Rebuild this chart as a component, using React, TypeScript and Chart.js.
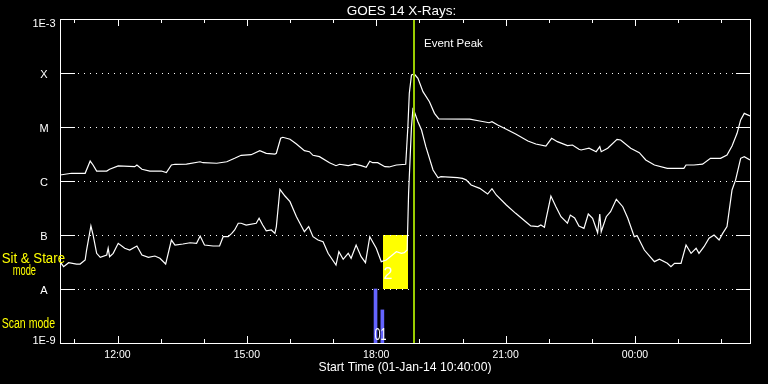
import React, { useEffect, useRef } from 'react';
import { Chart, registerables } from 'chart.js';

Chart.register(...registerables);

const TITLE = 'GOES 14 X-Rays:';
const X_TITLE = 'Start Time (01-Jan-14 10:40:00)';
const EVENT_LABEL = 'Event Peak';

// time axis: minutes since 01-Jan-14 10:40:00
const timeMin = 0;
const timeMax = 960;
const hourTicks = [20, 80, 140, 200, 260, 320, 380, 440, 500, 560, 620, 680, 740, 800, 860, 920];
const majorTicks = [80, 260, 440, 620, 800];
const majorLabels = ['12:00', '15:00', '18:00', '21:00', '00:00'];

// flux axis (W/m^2)
const decadeValues = [1e-9, 1e-8, 1e-7, 1e-6, 1e-5, 1e-4, 1e-3];
const decadeLabels = ['1E-9', 'A', 'B', 'C', 'M', 'X', '1E-3'];

// 1-8 Angstrom (upper curve)
const upperTimes = [0, 16, 35, 42, 46, 51, 65, 69, 81, 104, 107, 114, 125, 141, 148, 155, 160, 176, 195, 199, 218, 232, 243, 246, 252, 266, 278, 287, 299, 301, 307, 310, 320, 329, 340, 347, 352, 361, 375, 384, 389, 401, 410, 419, 426, 431, 435, 442, 452, 458, 468, 481, 484, 486, 489, 493, 498, 505, 514, 521, 527, 570, 584, 597, 601, 609, 621, 634, 651, 662, 676, 684, 692, 706, 713, 722, 725, 736, 746, 751, 753, 762, 775, 780, 794, 806, 815, 827, 845, 868, 871, 882, 894, 905, 919, 928, 935, 942, 947, 952, 960];
const upperFlux = [1.29e-6, 1.39e-6, 1.39e-6, 2.34e-6, 1.98e-6, 1.53e-6, 1.53e-6, 1.65e-6, 1.9e-6, 1.84e-6, 1.98e-6, 1.65e-6, 1.53e-6, 1.53e-6, 1.43e-6, 1.98e-6, 2.04e-6, 2.05e-6, 2.27e-6, 2.18e-6, 2.13e-6, 2.27e-6, 2.63e-6, 2.75e-6, 2.99e-6, 3.07e-6, 3.64e-6, 3.26e-6, 3.16e-6, 3.26e-6, 6.18e-6, 6.45e-6, 5.92e-6, 4.84e-6, 3.64e-6, 3.49e-6, 2.99e-6, 2.82e-6, 2.18e-6, 1.92e-6, 2.04e-6, 1.92e-6, 2.05e-6, 1.92e-6, 1.79e-6, 2.32e-6, 2.18e-6, 2.18e-6, 1.84e-6, 1.82e-6, 1.98e-6, 2.04e-6, 1.01e-5, 4.21e-5, 9.18e-5, 9.58e-5, 7.98e-5, 4.51e-5, 2.94e-5, 1.79e-5, 1.41e-5, 1.4e-5, 1.29e-5, 1.2e-5, 1.25e-5, 1.09e-5, 9.06e-6, 7.41e-6, 5.51e-6, 4.84e-6, 4.45e-6, 6.18e-6, 5.35e-6, 4.51e-6, 4.64e-6, 3.86e-6, 3.75e-6, 4.04e-6, 3.49e-6, 4.32e-6, 3.49e-6, 4.04e-6, 5.92e-6, 5.74e-6, 4.04e-6, 3.34e-6, 2.45e-6, 1.98e-6, 1.72e-6, 1.72e-6, 1.98e-6, 1.98e-6, 2.05e-6, 2.63e-6, 2.63e-6, 3.03e-6, 4.45e-6, 7.64e-6, 1.35e-5, 1.79e-5, 1.6e-5];

// 0.5-4 Angstrom (lower curve)
const lowerTimes = [0, 5, 12, 23, 28, 35, 37, 43, 46, 51, 56, 65, 67, 69, 74, 81, 90, 97, 107, 114, 123, 132, 139, 147, 155, 160, 171, 181, 190, 195, 201, 213, 222, 227, 234, 239, 243, 248, 252, 259, 273, 277, 282, 287, 294, 299, 301, 306, 313, 320, 329, 340, 346, 352, 359, 366, 373, 384, 388, 394, 401, 405, 412, 419, 425, 431, 440, 447, 454, 468, 475, 479, 483, 485, 489, 491, 493, 498, 503, 509, 519, 526, 530, 553, 560, 565, 572, 584, 595, 601, 607, 621, 634, 648, 655, 665, 669, 674, 676, 683, 690, 697, 706, 710, 716, 722, 729, 735, 741, 748, 751, 753, 760, 766, 774, 783, 790, 799, 803, 813, 827, 834, 845, 850, 855, 864, 871, 878, 885, 889, 896, 903, 910, 917, 922, 928, 935, 940, 947, 952, 960];
const lowerFlux = [3.21e-8, 2.59e-8, 3.07e-8, 2.9e-8, 2.9e-8, 3.44e-8, 5.27e-8, 1.47e-7, 1.0e-7, 4.58e-8, 3.86e-8, 4.27e-8, 5.68e-8, 3.96e-8, 4.58e-8, 7.02e-8, 5.68e-8, 5.27e-8, 6.25e-8, 4.27e-8, 3.86e-8, 4.08e-8, 3.71e-8, 2.9e-8, 8.07e-8, 6.53e-8, 6.81e-8, 7.19e-8, 7.02e-8, 9.58e-8, 6.53e-8, 6.25e-8, 6.25e-8, 9.31e-8, 9.31e-8, 1.07e-7, 1.24e-7, 1.65e-7, 1.65e-7, 1.53e-7, 1.65e-7, 2.04e-7, 1.53e-7, 1.2e-7, 1.24e-7, 1.07e-7, 1.43e-7, 7.02e-7, 5.27e-7, 4.14e-7, 2.18e-7, 1.15e-7, 1.43e-7, 9.31e-8, 8.07e-8, 7.52e-8, 4.58e-8, 2.78e-8, 4.91e-8, 3.55e-8, 4.58e-8, 3.71e-8, 6.53e-8, 3.96e-8, 3.07e-8, 9.31e-8, 5.68e-8, 3.21e-8, 3.44e-8, 4.91e-8, 4.58e-8, 4.7e-8, 5.27e-8, 5.92e-7, 1.01e-5, 2.13e-5, 1.92e-5, 1.25e-5, 8.8e-6, 4.32e-6, 1.6e-6, 1.15e-6, 1.2e-6, 1.15e-6, 1.12e-6, 1.05e-6, 8.43e-7, 7.32e-7, 5.74e-7, 7.19e-7, 5.51e-7, 3.6e-7, 2.52e-7, 1.76e-7, 1.47e-7, 1.43e-7, 1.53e-7, 1.39e-7, 1.9e-7, 5.27e-7, 3.34e-7, 2.18e-7, 1.65e-7, 2.34e-7, 2.07e-7, 1.47e-7, 1.33e-7, 2.45e-7, 2.04e-7, 1.1e-7, 2.45e-7, 1.15e-7, 2.18e-7, 2.7e-7, 4.58e-7, 3.34e-7, 2.04e-7, 9.31e-8, 9.71e-8, 5.27e-8, 3.21e-8, 3.55e-8, 2.99e-8, 2.59e-8, 2.99e-8, 2.99e-8, 6.53e-8, 4.58e-8, 5.68e-8, 4.58e-8, 6.07e-8, 8.69e-8, 1.0e-7, 8.07e-8, 1.07e-7, 1.43e-7, 6.81e-7, 1.05e-6, 2.63e-6, 2.82e-6, 2.45e-6];

// event markers
const eventPeakTime = 492;
const sitStareTimes = [450, 485];
const sitStareFlux = [1e-8, 1e-7];
const sitStareLabel = '2';
const scanTimes = [439, 448.5];
const scanTops = [1e-8, 4.1e-9];
const scanLabel = '01';

const FONT = '"Liberation Sans", Arial, sans-serif';

function drawText(
  ctx: CanvasRenderingContext2D,
  s: string,
  x: number,
  y: number,
  size: number,
  color: string,
  align: CanvasTextAlign = 'left',
  fitWidth?: number
) {
  ctx.save();
  ctx.font = `${size}px ${FONT}`;
  ctx.fillStyle = color;
  ctx.textBaseline = 'alphabetic';
  ctx.textAlign = align;
  ctx.translate(x, y);
  if (fitWidth) {
    const w = ctx.measureText(s).width;
    if (w > 0) ctx.scale(fitWidth / w, 1);
  }
  ctx.fillText(s, 0, 0);
  ctx.restore();
}

const overlayPlugin = {
  id: 'goesOverlay',
  beforeDraw(chart: any) {
    const ctx = chart.ctx;
    ctx.save();
    ctx.fillStyle = '#000';
    ctx.fillRect(0, 0, chart.width, chart.height);
    ctx.restore();
  },
  beforeDatasetsDraw(chart: any) {
    const { ctx, chartArea, scales } = chart;
    const { left, right, top, bottom } = chartArea;
    const xs = scales.x;
    const ys = scales.y;
    ctx.save();
    // sit & stare box
    const bx0 = xs.getPixelForValue(sitStareTimes[0]);
    const bx1 = xs.getPixelForValue(sitStareTimes[1]);
    const by0 = ys.getPixelForValue(sitStareFlux[1]);
    const by1 = ys.getPixelForValue(sitStareFlux[0]);
    ctx.fillStyle = '#ffff00';
    ctx.fillRect(Math.round(bx0), Math.round(by0), Math.round(bx1 - bx0), Math.round(by1 - by0));

    // decade grid lines
    ctx.strokeStyle = '#fff';
    ctx.lineWidth = 1;
    for (let i = 1; i < decadeValues.length - 1; i++) {
      const py = Math.round(ys.getPixelForValue(decadeValues[i])) + 0.5;
      ctx.setLineDash([]);
      ctx.beginPath();
      ctx.moveTo(left, py);
      ctx.lineTo(left + 15, py);
      ctx.moveTo(right - 14, py);
      ctx.lineTo(right + 1, py);
      ctx.stroke();
      ctx.setLineDash([1, 5]);
      ctx.beginPath();
      ctx.moveTo(left + 18, py);
      ctx.lineTo(right - 15, py);
      ctx.stroke();
    }
    ctx.setLineDash([]);
    // hour ticks top and bottom
    ctx.beginPath();
    for (const t of hourTicks) {
      const px = Math.round(xs.getPixelForValue(t)) + 0.5;
      const len = majorTicks.includes(t) ? 7 : 4;
      ctx.moveTo(px, bottom);
      ctx.lineTo(px, bottom - len);
      ctx.moveTo(px, top);
      ctx.lineTo(px, top + len);
    }
    ctx.stroke();
    ctx.restore();
  },
  afterDatasetsDraw(chart: any) {
    const { ctx, chartArea, scales } = chart;
    const { left, right, top, bottom } = chartArea;
    const xs = scales.x;
    const ys = scales.y;
    ctx.save();
    // event peak line
    const gx = Math.round(xs.getPixelForValue(eventPeakTime));
    ctx.fillStyle = '#99cc00';
    ctx.fillRect(gx - 1, top, 2, bottom - top + 1);

    // frame
    ctx.strokeStyle = '#fff';
    ctx.lineWidth = 1;
    ctx.strokeRect(left + 0.5, top + 0.5, right - left, bottom - top);

    // y labels
    for (let i = 0; i < decadeValues.length; i++) {
      const py = ys.getPixelForValue(decadeValues[i]);
      const base = Math.min(Math.max(py + 5, top + 8), bottom + 1);
      drawText(ctx, decadeLabels[i], 44, base, 11, '#fff', 'center');
    }

    // texts
    const cx = (left + right) / 2;
    drawText(ctx, TITLE, cx - 3.5, 14.7, 13.5, '#fff', 'center');
    drawText(ctx, EVENT_LABEL, gx + 10, 46.7, 11.5, '#fff', 'left');
    drawText(ctx, X_TITLE, cx, 371.3, 12.2, '#fff', 'center');

    drawText(ctx, 'Sit & Stare', 1.7, 263.3, 14, '#ffff00', 'left', 63.3);
    drawText(ctx, 'mode', 12.7, 275, 14, '#ffff00', 'left', 23.3);
    drawText(ctx, 'Scan mode', 1.7, 328.3, 14, '#ffff00', 'left', 53.3);

    const bx0 = xs.getPixelForValue(sitStareTimes[0]);
    drawText(ctx, sitStareLabel, bx0, 278.5, 16, '#ffffff', 'left');
    const sx0 = xs.getPixelForValue(scanTimes[0]);
    drawText(ctx, scanLabel, sx0 - 1, 339.5, 16, '#ffffff', 'left', 12);
    ctx.restore();
  },
};

export default function App() {
  const canvasRef = useRef<HTMLCanvasElement | null>(null);

  useEffect(() => {
    const canvas = canvasRef.current;
    if (!canvas) return;
    const chart = new Chart(canvas, {
      type: 'line',
      data: {
        datasets: [
          {
            type: 'line',
            label: 'GOES 1-8 A',
            data: upperTimes.map((t, i) => ({ x: t, y: upperFlux[i] })),
            borderColor: '#ffffff',
            borderWidth: 1.2,
            pointRadius: 0,
            tension: 0,
            fill: false,
          },
          {
            type: 'line',
            label: 'GOES 0.5-4 A',
            data: lowerTimes.map((t, i) => ({ x: t, y: lowerFlux[i] })),
            borderColor: '#ffffff',
            borderWidth: 1.2,
            pointRadius: 0,
            tension: 0,
            fill: false,
          },
          {
            type: 'bar',
            label: 'Scan mode',
            data: scanTimes.map((t, i) => ({ x: t, y: [decadeValues[0], scanTops[i]] })) as any,
            backgroundColor: '#6464ff',
            borderWidth: 0,
            barThickness: 3,
          } as any,
        ],
      },
      options: {
        animation: false,
        responsive: false,
        events: [],
        layout: { padding: { top: 19, right: 18, left: 0, bottom: 0 } },
        plugins: {
          legend: { display: false },
          tooltip: { enabled: false },
          title: { display: false },
        },
        scales: {
          x: {
            type: 'linear',
            min: timeMin,
            max: timeMax,
            offset: false,
            grid: { display: false, drawTicks: false, offset: false },
            border: { display: false },
            afterBuildTicks: (s: any) => {
              s.ticks = majorTicks.map((v) => ({ value: v }));
            },
            afterFit: (s: any) => {
              s.height = 41;
            },
            ticks: {
              autoSkip: false,
              maxRotation: 0,
              color: '#ffffff',
              padding: 6,
              font: { family: FONT, size: 10.5 },
              callback: (v: any) => {
                const i = majorTicks.indexOf(Number(v));
                return i >= 0 ? majorLabels[i] : '';
              },
            },
          },
          y: {
            type: 'logarithmic',
            min: decadeValues[0],
            max: decadeValues[decadeValues.length - 1],
            grid: { display: false, drawTicks: false },
            border: { display: false },
            afterBuildTicks: (s: any) => {
              s.ticks = decadeValues.map((v) => ({ value: v }));
            },
            afterFit: (s: any) => {
              s.width = 60;
            },
            ticks: { display: false },
          },
        },
      } as any,
      plugins: [overlayPlugin],
    });
    return () => chart.destroy();
  }, []);

  return (
    <div style={{ position: 'fixed', left: 0, top: 0, width: 768, height: 384, background: '#000' }}>
      <canvas ref={canvasRef} width={768} height={384} style={{ display: 'block' }} />
    </div>
  );
}
